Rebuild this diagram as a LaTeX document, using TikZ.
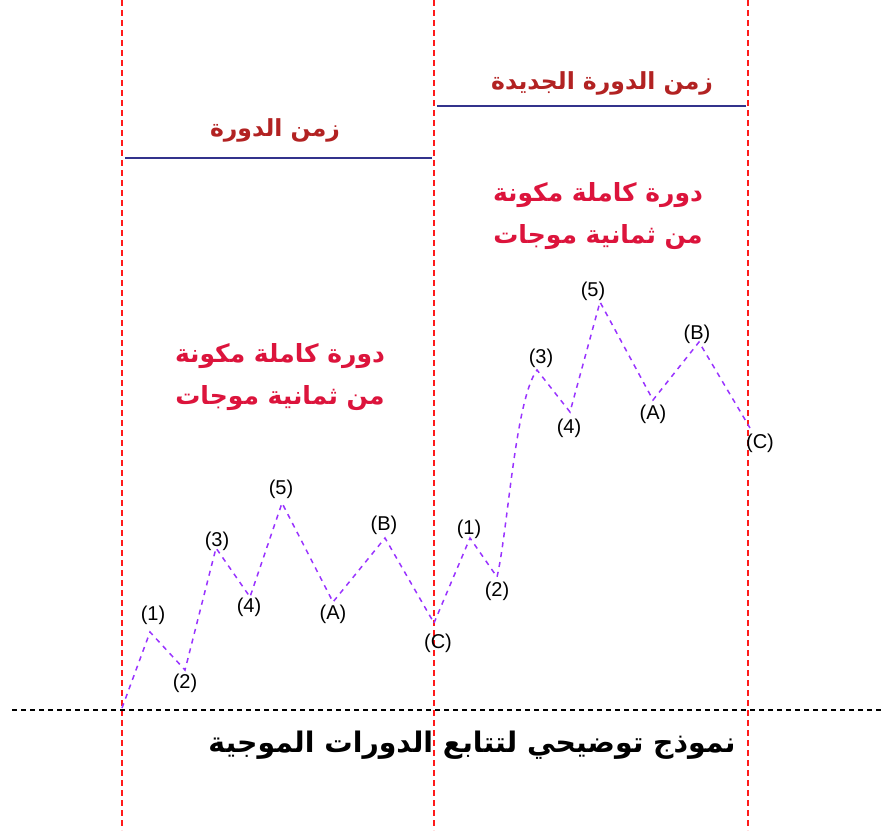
\documentclass[tikz,border=0pt]{standalone}
\usepackage{fontspec}
\setmainfont{Liberation Sans}
\newfontfamily\arabicfont[Script=Arabic]{DejaVu Sans}
\TeXXeTstate=1
\definecolor{vred}{HTML}{FF1A1A}
\definecolor{navy}{HTML}{33338C}
\definecolor{darkred}{HTML}{B22222}
\definecolor{crim}{HTML}{DC143C}
\definecolor{wave}{HTML}{9933FF}
\tikzset{
  vline/.style={vred, line width=1.9pt, dash pattern=on 6pt off 4pt},
  baseline/.style={black, line width=1.6pt, dash pattern=on 5pt off 4pt},
  spanline/.style={navy, line width=2pt},
  waveline/.style={wave, line width=1.5pt, dash pattern=on 5pt off 5pt},
  lbl/.style={font=\fontsize{20}{20}\selectfont, inner sep=0pt},
  toplbl/.style={font=\arabicfont\bfseries\fontsize{23.5}{23.5}\selectfont, text=darkred, inner sep=0pt},
  midlbl/.style={font=\arabicfont\bfseries\fontsize{25}{42}\selectfont, text=crim, align=center, inner sep=0pt},
  title/.style={font=\arabicfont\bfseries\fontsize{28.3}{28.3}\selectfont, text=black, inner sep=0pt}
}
\begin{document}
\begin{tikzpicture}[x=1pt,y=-1pt]
\useasboundingbox (0,0) rectangle (882,830);
% vertical dashed lines
\coordinate (v1t) at (122,0); \coordinate (v1b) at (122,830);
\coordinate (v2t) at (434,0); \coordinate (v2b) at (434,830);
\coordinate (v3t) at (748,0); \coordinate (v3b) at (748,830);
\draw[vline] (v1t) -- (v1b);
\draw[vline] (v2t) -- (v2b);
\draw[vline] (v3t) -- (v3b);
% horizontal baseline
\coordinate (hl) at (12,710); \coordinate (hr) at (882,710);
\draw[baseline] (hl) -- (hr);
% time span lines
\coordinate (s1a) at (125,158); \coordinate (s1b) at (432,158);
\coordinate (s2a) at (437,106); \coordinate (s2b) at (746,106);
\draw[spanline] (s1a) -- (s1b);
\draw[spanline] (s2a) -- (s2b);
\node[toplbl] (t1) at (275,130) {\beginR زمن الدورة\endR};
\node[toplbl] (t2) at (602,83) {\beginR زمن الدورة الجديدة\endR};
\node[midlbl] (m1) at (280,377) {\beginR دورة كاملة مكونة\endR\\\beginR من ثمانية موجات\endR};
\node[midlbl] (m2) at (598,216) {\beginR دورة كاملة مكونة\endR\\\beginR من ثمانية موجات\endR};
\node[title] (tt) at (472,745) {\beginR نموذج توضيحي لتتابع الدورات الموجية\endR};
% first cycle
\coordinate (p0) at (122,708);
\coordinate (p1) at (150,632);
\coordinate (p2) at (185,670);
\coordinate (p3) at (216,548);
\coordinate (p4) at (250,597);
\coordinate (p5) at (282,503);
\coordinate (pA) at (333,602);
\coordinate (pB) at (385,538);
\coordinate (pC) at (434,623);
\draw[waveline] (p0) -- (p1) -- (p2) -- (p3) -- (p4) -- (p5) -- (pA) -- (pB) -- (pC);
\node[lbl] (l1) at (153,615) {(1)};
\node[lbl] (l2) at (185,683) {(2)};
\node[lbl] (l3) at (217,541) {(3)};
\node[lbl] (l4) at (249,607) {(4)};
\node[lbl] (l5) at (281,489) {(5)};
\node[lbl] (lA) at (333,614) {(A)};
\node[lbl] (lB) at (384,525) {(B)};
\node[lbl] (lC) at (438,643) {(C)};
% second cycle
\coordinate (q1) at (470,538);
\coordinate (q2) at (497,577);
\coordinate (q3) at (537,370);
\coordinate (q4) at (570,412);
\coordinate (q5) at (600,302);
\coordinate (qA) at (653,400);
\coordinate (qB) at (699,342);
\coordinate (qC) at (750,428);
\draw[waveline] (pC) -- (q1) -- (q2) .. controls (508,530) and (515,400) .. (q3) -- (q4) -- (q5) -- (qA) -- (qB) -- (qC);
\node[lbl] (k1) at (469,529) {(1)};
\node[lbl] (k2) at (497,591) {(2)};
\node[lbl] (k3) at (541,358) {(3)};
\node[lbl] (k4) at (569,428) {(4)};
\node[lbl] (k5) at (593,291) {(5)};
\node[lbl] (kA) at (653,414) {(A)};
\node[lbl] (kB) at (697,334) {(B)};
\node[lbl] (kC) at (760,443) {(C)};
\end{tikzpicture}
\end{document}
